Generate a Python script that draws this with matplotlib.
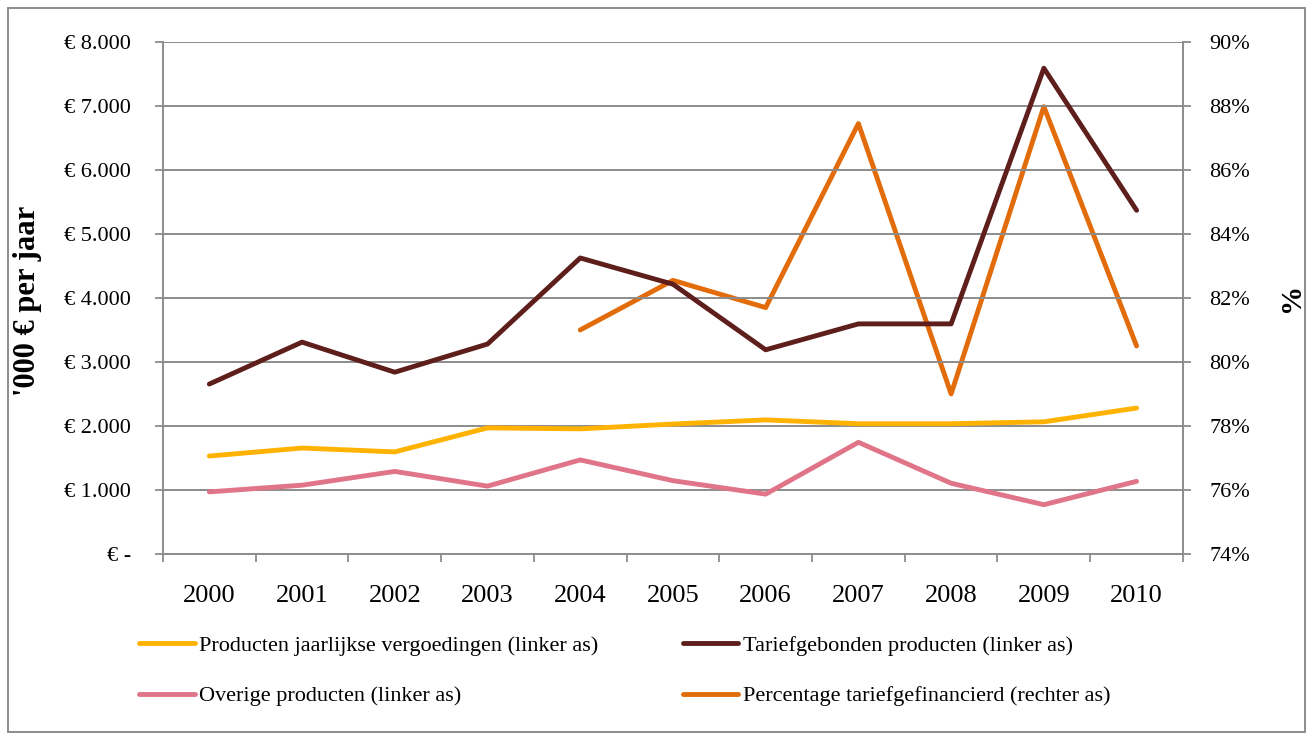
import numpy as np
import matplotlib.pyplot as plt
from matplotlib.patches import Rectangle

plt.rcParams['font.family'] = ['Liberation Serif', 'DejaVu Serif']

years = ['2000', '2001', '2002', '2003', '2004', '2005',
         '2006', '2007', '2008', '2009', '2010']
jaarlijks = [1530, 1655, 1595, 1970, 1955, 2030, 2095, 2035, 2035, 2065, 2280]
tarief = [2655, 3310, 2840, 3280, 4625, 4215, 3190, 3595, 3595, 7590, 5370]
overige = [970, 1075, 1290, 1060, 1470, 1145, 935, 1745, 1105, 770, 1135]
perc = [np.nan, np.nan, np.nan, np.nan, 81.0, 82.55, 81.7, 87.45, 79.0, 87.98, 80.5]

left_ticks = [0, 1000, 2000, 3000, 4000, 5000, 6000, 7000, 8000]
left_labels = ['€ -', '€ 1.000', '€ 2.000', '€ 3.000', '€ 4.000',
               '€ 5.000', '€ 6.000', '€ 7.000', '€ 8.000']
right_ticks = [74, 76, 78, 80, 82, 84, 86, 88, 90]

c_yellow = '#FFB300'
c_brown = '#5E1F1C'
c_pink = '#E07488'
c_orange = '#E26B0A'
grey = '#8C8C8C'

fig = plt.figure(figsize=(13.09, 7.35), dpi=100)
ax = fig.add_axes([0.1245, 0.2463, 0.7792, 0.6966])
ax2 = ax.twinx()

x = np.arange(len(years))
l1, = ax.plot(x, jaarlijks, color=c_yellow, lw=3.5, solid_capstyle='round')
l2, = ax.plot(x, tarief, color=c_brown, lw=3.5, solid_capstyle='round')
l3, = ax.plot(x, overige, color=c_pink, lw=3.5, solid_capstyle='round')
l4, = ax2.plot(x, perc, color=c_orange, lw=3.5, solid_capstyle='round')
ax.set_zorder(ax2.get_zorder() + 1)
ax.patch.set_visible(False)

ax.set_xlim(-0.5, len(years) - 0.5)
ax.set_ylim(0, 8000)
ax2.set_ylim(74, 90)

ax.set_xticks(np.arange(-0.5, len(years), 1))
ax.set_xticklabels([])
ax.set_xticks(x, minor=True)
ax.set_xticklabels(years, minor=True, fontsize=19)
ax.tick_params(axis='x', which='major', length=6, color=grey, width=1.3)
ax.tick_params(axis='x', which='minor', length=0, pad=22)

ax.set_yticks(left_ticks)
ax.set_yticklabels(left_labels, fontsize=16)
ax.tick_params(axis='y', length=6, color=grey, width=1.3, pad=17)
ax.grid(axis='y', color=grey, lw=1.4)

ax2.set_yticks(right_ticks)
ax2.set_yticklabels([f'{t}%' for t in right_ticks], fontsize=16)
ax2.tick_params(axis='y', length=6, color=grey, width=1.3, pad=13)

for a in (ax, ax2):
    for s in a.spines.values():
        s.set_visible(False)
ax.spines['left'].set_visible(True)
ax.spines['left'].set_color(grey)
ax.spines['left'].set_linewidth(1.4)
ax.spines['bottom'].set_visible(True)
ax.spines['bottom'].set_color(grey)
ax.spines['bottom'].set_linewidth(1.4)
ax2.spines['right'].set_visible(True)
ax2.spines['right'].set_color(grey)
ax2.spines['right'].set_linewidth(1.4)

fig.text(0.021, 0.59, "'000 € per jaar", rotation=90, fontsize=22,
         fontweight='bold', ha='center', va='center')
fig.text(0.987, 0.595, '%', rotation=90, fontsize=21,
         fontweight='bold', ha='center', va='center')

fig.legend([l1, l3, l2, l4],
           ['Producten jaarlijkse vergoedingen (linker as)',
            'Overige producten (linker as)',
            'Tariefgebonden producten (linker as)',
            'Percentage tariefgefinancierd (rechter as)'],
           ncol=2, loc='upper left', bbox_to_anchor=(0.091, 0.163),
           frameon=False, fontsize=16, handlelength=2.5, handletextpad=0.2,
           columnspacing=3.8, labelspacing=1.35)

fig.patches.append(Rectangle((0.006, 0.004), 0.991, 0.985, transform=fig.transFigure,
                             fill=False, edgecolor=grey, lw=1.4))

fig.savefig('out.png', dpi=100)
